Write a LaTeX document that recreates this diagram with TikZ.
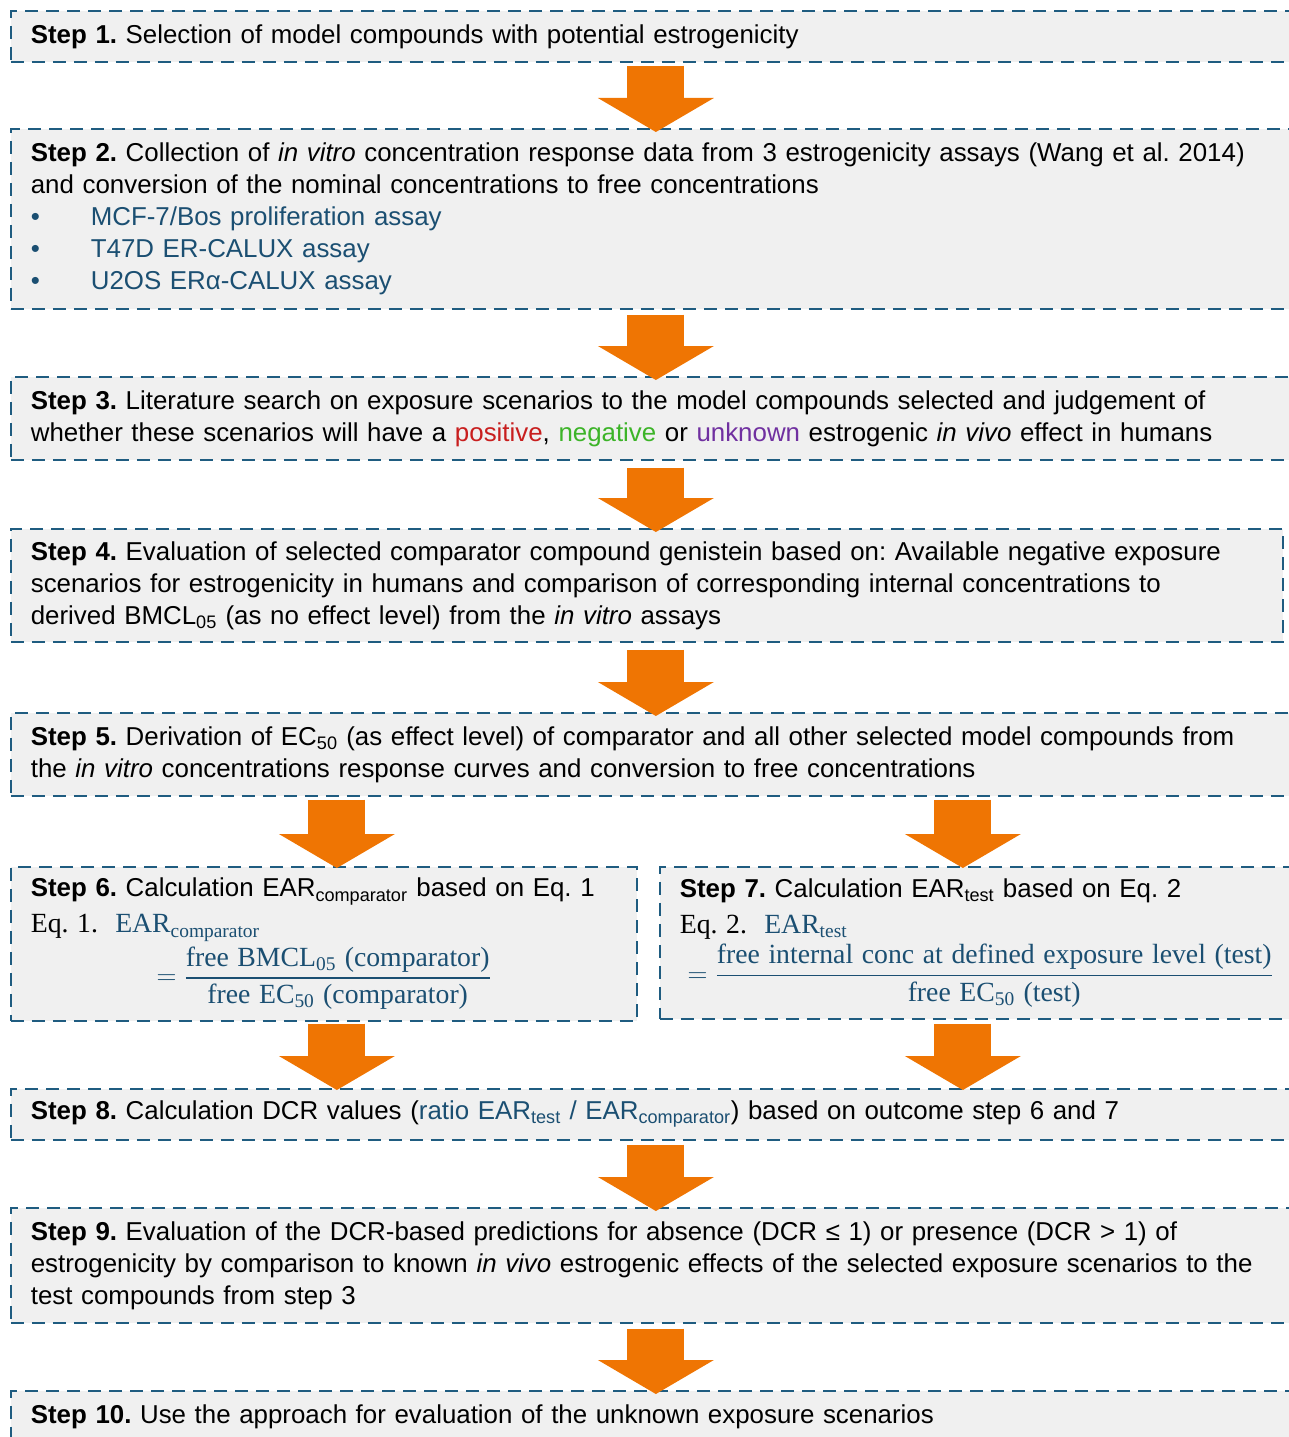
\documentclass[tikz,border=0pt]{standalone}
\usepackage{fontspec}
\usepackage{amsmath}
\setmainfont{Liberation Sans}
\newfontfamily\eqfont{Liberation Serif}
\usetikzlibrary{arrows.meta,calc}
\frenchspacing

\definecolor{boxline}{HTML}{1F5C80}
\definecolor{boxfill}{HTML}{F0F0F0}
\definecolor{arroworange}{HTML}{EF7503}
\definecolor{textblue}{HTML}{1B4F72}
\definecolor{posred}{HTML}{C81E1E}
\definecolor{neggreen}{HTML}{3CB428}
\definecolor{unkpurple}{HTML}{7030A0}

\newcommand{\steptext}{\fontsize{19.4pt}{24pt}\selectfont}
\newcommand{\eqtext}{\eqfont\fontsize{20.8pt}{24pt}\selectfont}
\newcommand{\stepno}[1]{\textbf{Step #1.}}
\newcommand{\bulletitem}[1]{{\color{textblue}\makebox[45pt][l]{•}#1}}

\tikzset{
  stepbox/.style={draw=boxline, fill=boxfill, dash pattern=on 9.75pt off 6pt,
    line width=1.3pt, anchor=north west, align=left, inner xsep=15pt,
    inner ysep=0pt, font=\steptext},
  flowarrow/.style={draw=arroworange, line width=42.75pt,
    -{Triangle[width=87pt,length=25.5pt,line width=0pt]}},
}

\begin{document}
\begin{tikzpicture}[x=0.75pt,y=-0.75pt]
    \useasboundingbox (0,0) rectangle (1288,1437);

    % Steps 1 to 5
    \node[stepbox, text width=937.5pt, minimum height=38.25pt] (s1) at (10,10)
        {\stepno{1} Selection of model compounds with potential estrogenicity};
    \node[stepbox, text width=937.5pt, minimum height=135pt] (s2) at (10,128)
        {\stepno{2} Collection of \textit{in vitro} concentration response data from 3 estrogenicity assays (Wang et al. 2014)\\
         and conversion of the nominal concentrations to free concentrations\\
         \bulletitem{MCF-7/Bos proliferation assay}\\
         \bulletitem{T47D ER-CALUX assay}\\
         \bulletitem{U2OS ERα-CALUX assay}};
    \node[stepbox, text width=937.5pt, minimum height=62.25pt] (s3) at (10,376)
        {\stepno{3} Literature search on exposure scenarios to the model compounds selected and judgement of\\
         whether these scenarios will have a {\color{posred}positive}, {\color{neggreen}negative} or {\color{unkpurple}unknown} estrogenic \textit{in vivo} effect in humans};
    \node[stepbox, text width=924pt, minimum height=84.75pt] (s4) at (10,528)
        {\stepno{4} Evaluation of selected comparator compound genistein based on: Available negative exposure\\
         scenarios for estrogenicity in humans and comparison of corresponding internal concentrations to\\
         derived BMCL\textsubscript{05} (as no effect level) from the \textit{in vitro} assays};
    \node[stepbox, text width=937.5pt, minimum height=62.25pt] (s5) at (10,712)
        {\stepno{5} Derivation of EC\textsubscript{50} (as effect level) of comparator and all other selected model compounds from\\
         the \textit{in vitro} concentrations response curves and conversion to free concentrations};

    % Steps 6 and 7 side by side
    \node[stepbox, text width=439.5pt, minimum height=115.5pt] (s6) at (10,866)
        {\stepno{6} Calculation EAR\textsubscript{comparator} based on Eq. 1\\[3pt]
         {\eqtext Eq. 1.\ \ {\color{textblue}EAR\textsubscript{comparator}}}\par\vspace{3pt}
         {\centering\eqtext\color{textblue}$=\genfrac{}{}{1.1pt}{0}{\text{free BMCL\textsubscript{05} (comparator)}}{\text{free EC\textsubscript{50} (comparator)}}$\par}};
    \node[stepbox, text width=450.75pt, minimum height=114pt] (s7) at (659,866)
        {\stepno{7} Calculation EAR\textsubscript{test} based on Eq. 2\\[3pt]
         {\eqtext Eq. 2.\ \ {\color{textblue}EAR\textsubscript{test}}}\par\vspace{3pt}
         {\centering\eqtext\color{textblue}$=\genfrac{}{}{1.1pt}{0}{\text{free internal conc at defined exposure level (test)}}{\text{free EC\textsubscript{50} (test)}}$\par}};

    % Steps 8 to 10
    \node[stepbox, text width=937.5pt, minimum height=38.25pt] (s8) at (10,1088)
        {\stepno{8} Calculation DCR values ({\color{textblue}ratio EAR\textsubscript{test} / EAR\textsubscript{comparator}}) based on outcome step 6 and 7};
    \node[stepbox, text width=937.5pt, minimum height=86.25pt] (s9) at (10,1207)
        {\stepno{9} Evaluation of the DCR-based predictions for absence (DCR ≤ 1) or presence (DCR > 1) of\\
         estrogenicity by comparison to known \textit{in vivo} estrogenic effects of the selected exposure scenarios to the\\
         test compounds from step 3};
    \node[stepbox, text width=937.5pt, minimum height=38.25pt] (s10) at (10,1390)
        {\stepno{10} Use the approach for evaluation of the unknown exposure scenarios};

    % Arrows
    \draw[flowarrow] ($(s1.south)+(0,3)$) -- ($(s2.north)+(0,4)$);
    \draw[flowarrow] ($(s2.south)+(0,5)$) -- ($(s3.north)+(0,4)$);
    \draw[flowarrow] ($(s3.south)+(0,7)$) -- ($(s3.south |- s4.north)+(0,4)$);
    \draw[flowarrow] ($(s5.north |- s4.south)+(0,7)$) -- ($(s5.north)+(0,4)$);
    \draw[flowarrow] ($(s5.south -| s6.north)+(13,3)$) -- ($(s6.north)+(13,2)$);
    \draw[flowarrow] ($(s5.south -| s7.north)+(-17.5,3)$) -- ($(s7.north)+(-17.5,2)$);
    \draw[flowarrow] ($(s6.south)+(13,2)$) -- ($(s8.north -| s6.south)+(13,2)$);
    \draw[flowarrow] ($(s7.south)+(-17.5,4)$) -- ($(s8.north -| s7.south)+(-17.5,2)$);
    \draw[flowarrow] ($(s8.south)+(0,4)$) -- ($(s9.north)+(0,4)$);
    \draw[flowarrow] ($(s9.south)+(0,5)$) -- ($(s10.north)+(0,4)$);
\end{tikzpicture}
\end{document}
